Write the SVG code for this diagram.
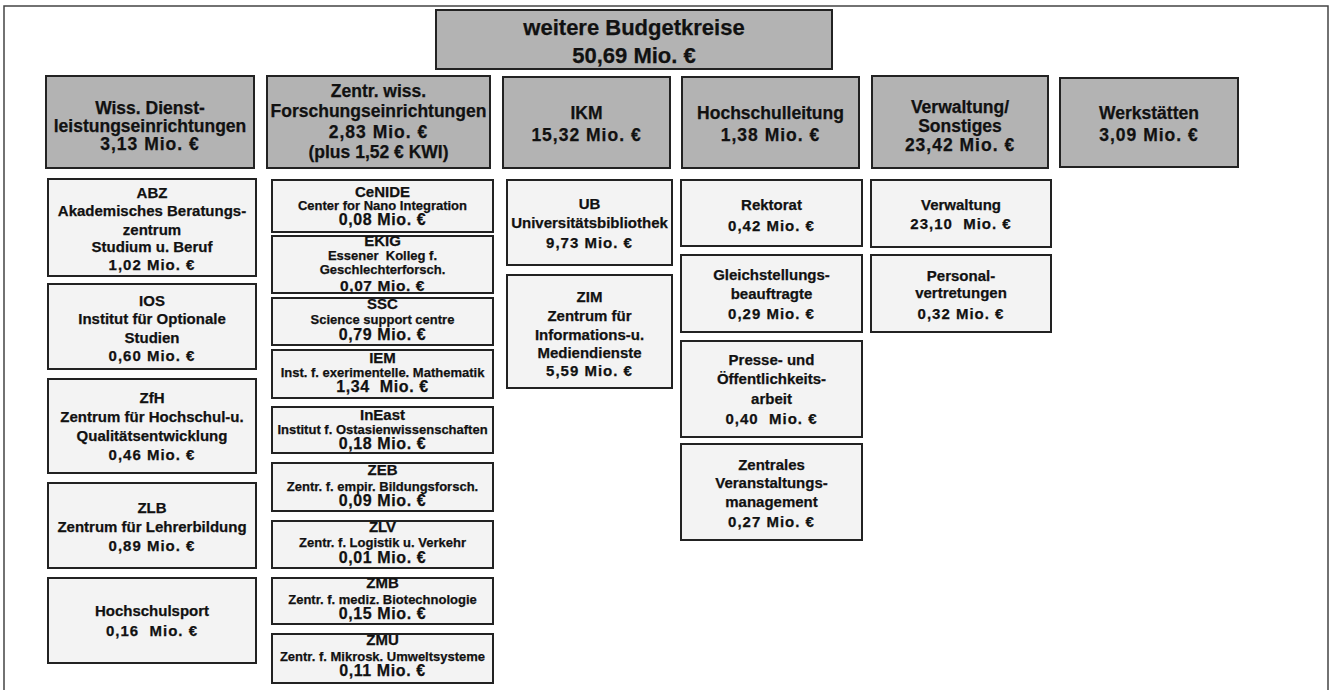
<svg xmlns="http://www.w3.org/2000/svg" width="1333" height="690" viewBox="0 0 1333 690">
<style>
text{font-family:"Liberation Sans",Arial,sans-serif;font-weight:700;fill:#111;stroke:#111;stroke-width:0.25;text-anchor:middle}
.hdr{fill:#b3b3b3;stroke:#222;stroke-width:2}
.box{fill:#f3f3f3;stroke:#222;stroke-width:2}
.frame{fill:none;stroke:#444;stroke-width:1.5}
.top{font-size:22px}
.h{font-size:17.5px}
.ha{font-size:17.5px;letter-spacing:1px}
.c{font-size:15px}
.ca{font-size:15px;letter-spacing:1px}
.s{font-size:13px}
.sa{font-size:16px;letter-spacing:0.6px}
</style>
<rect width="1333" height="690" fill="#fff"/>
<path class="frame" d="M4,700 V6 H1328 V700"/>
<g id="connectors"/>

<g id="top">
<rect class="hdr" x="436" y="10" width="396" height="59"/>
<text class="top" x="634" y="35">weitere Budgetkreise</text>
<text class="top" x="634" y="63">50,69 Mio. €</text>
</g>

<g id="h-wiss">
<rect class="hdr" x="46" y="76" width="208" height="92"/>
<text class="h" x="150" y="114">Wiss. Dienst-</text>
<text class="h" x="150" y="132">leistungseinrichtungen</text>
<text class="ha" x="150" y="150">3,13 Mio. €</text>
</g>
<g id="h-zentr">
<rect class="hdr" x="267" y="76" width="223" height="92"/>
<text class="h" x="378.5" y="97">Zentr. wiss.</text>
<text class="h" x="378.5" y="117">Forschungseinrichtungen</text>
<text class="ha" x="378.5" y="138">2,83 Mio. €</text>
<text class="h" x="378.5" y="158">(plus 1,52 € KWI)</text>
</g>
<g id="h-ikm">
<rect class="hdr" x="503" y="77" width="167" height="91"/>
<text class="h" x="586.5" y="119">IKM</text>
<text class="ha" x="586.5" y="141">15,32 Mio. €</text>
</g>
<g id="h-hsl">
<rect class="hdr" x="682" y="77" width="177" height="91"/>
<text class="h" x="770.5" y="119">Hochschulleitung</text>
<text class="ha" x="770.5" y="141">1,38 Mio. €</text>
</g>
<g id="h-verw">
<rect class="hdr" x="872" y="76" width="176" height="92"/>
<text class="h" x="960" y="113">Verwaltung/</text>
<text class="h" x="960" y="132">Sonstiges</text>
<text class="ha" x="960" y="151">23,42 Mio. €</text>
</g>
<g id="h-werk">
<rect class="hdr" x="1060" y="78" width="178" height="89"/>
<text class="h" x="1149" y="119">Werkstätten</text>
<text class="ha" x="1149" y="141">3,09 Mio. €</text>
</g>

<g id="abz">
<rect class="box" x="48" y="179" width="208" height="97"/>
<text class="c" x="152" y="198">ABZ</text>
<text class="c" x="152" y="216">Akademisches Beratungs-</text>
<text class="c" x="152" y="235">zentrum</text>
<text class="c" x="152" y="252">Studium u. Beruf</text>
<text class="ca" x="152" y="270">1,02 Mio. €</text>
</g>
<g id="ios">
<rect class="box" x="48" y="284" width="208" height="85"/>
<text class="c" x="152" y="306">IOS</text>
<text class="c" x="152" y="324">Institut für Optionale</text>
<text class="c" x="152" y="343">Studien</text>
<text class="ca" x="152" y="361">0,60 Mio. €</text>
</g>
<g id="zfh">
<rect class="box" x="48" y="379" width="208" height="94"/>
<text class="c" x="152" y="403">ZfH</text>
<text class="c" x="152" y="422">Zentrum für Hochschul-u.</text>
<text class="c" x="152" y="441">Qualitätsentwicklung</text>
<text class="ca" x="152" y="460">0,46 Mio. €</text>
</g>
<g id="zlb">
<rect class="box" x="48" y="483" width="208" height="85"/>
<text class="c" x="152" y="513">ZLB</text>
<text class="c" x="152" y="532">Zentrum für Lehrerbildung</text>
<text class="ca" x="152" y="551">0,89 Mio. €</text>
</g>
<g id="hsport">
<rect class="box" x="48" y="578" width="208" height="85"/>
<text class="c" x="152" y="616">Hochschulsport</text>
<text class="ca" x="152" y="636" xml:space="preserve">0,16  Mio. €</text>
</g>

<g id="cenide">
<rect class="box" x="272" y="180" width="221" height="52"/>
<text class="c" x="382.5" y="197">CeNIDE</text>
<text class="s" x="382.5" y="210">Center for Nano Integration</text>
<text class="sa" x="382.5" y="225">0,08 Mio. €</text>
</g>
<g id="ekig">
<rect class="box" x="272" y="236" width="221" height="57"/>
<text class="c" x="382.5" y="246">EKIG</text>
<text class="s" x="382.5" y="259.5" xml:space="preserve">Essener  Kolleg f.</text>
<text class="s" x="382.5" y="274">Geschlechterforsch.</text>
<text class="sa" x="382.5" y="291" style="font-size:15.5px">0,07 Mio. €</text>
</g>
<g id="ssc">
<rect class="box" x="272" y="298" width="221" height="47"/>
<text class="c" x="382.5" y="309">SSC</text>
<text class="s" x="382.5" y="324">Science support centre</text>
<text class="sa" x="382.5" y="340">0,79 Mio. €</text>
</g>
<g id="iem">
<rect class="box" x="272" y="350" width="221" height="48"/>
<text class="c" x="382.5" y="363">IEM</text>
<text class="s" x="382.5" y="377">Inst. f. exerimentelle. Mathematik</text>
<text class="sa" x="382.5" y="392" xml:space="preserve">1,34  Mio. €</text>
</g>
<g id="ineast">
<rect class="box" x="272" y="407" width="221" height="46"/>
<text class="c" x="382.5" y="420">InEast</text>
<text class="s" x="382.5" y="434">Institut f. Ostasienwissenschaften</text>
<text class="sa" x="382.5" y="449">0,18 Mio. €</text>
</g>
<g id="zeb">
<rect class="box" x="272" y="463" width="221" height="48"/>
<text class="c" x="382.5" y="475">ZEB</text>
<text class="s" x="382.5" y="491">Zentr. f. empir. Bildungsforsch.</text>
<text class="sa" x="382.5" y="506">0,09 Mio. €</text>
</g>
<g id="zlv">
<rect class="box" x="272" y="521" width="221" height="47"/>
<text class="c" x="382.5" y="532">ZLV</text>
<text class="s" x="382.5" y="547">Zentr. f. Logistik u. Verkehr</text>
<text class="sa" x="382.5" y="563">0,01 Mio. €</text>
</g>
<g id="zmb">
<rect class="box" x="272" y="578" width="221" height="46"/>
<text class="c" x="382.5" y="588">ZMB</text>
<text class="s" x="382.5" y="604">Zentr. f. mediz. Biotechnologie</text>
<text class="sa" x="382.5" y="619">0,15 Mio. €</text>
</g>
<g id="zmu">
<rect class="box" x="272" y="634" width="221" height="49"/>
<text class="c" x="382.5" y="645">ZMU</text>
<text class="s" x="382.5" y="661">Zentr. f. Mikrosk. Umweltsysteme</text>
<text class="sa" x="382.5" y="676">0,11 Mio. €</text>
</g>

<g id="ub">
<rect class="box" x="507" y="180" width="165" height="85"/>
<text class="c" x="589.5" y="209">UB</text>
<text class="c" x="589.5" y="228">Universitätsbibliothek</text>
<text class="ca" x="589.5" y="248">9,73 Mio. €</text>
</g>
<g id="zim">
<rect class="box" x="507" y="275" width="165" height="113"/>
<text class="c" x="589.5" y="302">ZIM</text>
<text class="c" x="589.5" y="321">Zentrum für</text>
<text class="c" x="589.5" y="340">Informations-u.</text>
<text class="c" x="589.5" y="358">Mediendienste</text>
<text class="ca" x="589.5" y="376">5,59 Mio. €</text>
</g>

<g id="rektorat">
<rect class="box" x="681" y="180" width="181" height="66"/>
<text class="c" x="771.5" y="210">Rektorat</text>
<text class="ca" x="771.5" y="231">0,42 Mio. €</text>
</g>
<g id="gleich">
<rect class="box" x="681" y="255" width="181" height="77"/>
<text class="c" x="771.5" y="280">Gleichstellungs-</text>
<text class="c" x="771.5" y="299">beauftragte</text>
<text class="ca" x="771.5" y="319">0,29 Mio. €</text>
</g>
<g id="presse">
<rect class="box" x="681" y="341" width="181" height="96"/>
<text class="c" x="771.5" y="365">Presse- und</text>
<text class="c" x="771.5" y="384">Öffentlichkeits-</text>
<text class="c" x="771.5" y="404">arbeit</text>
<text class="ca" x="771.5" y="424" xml:space="preserve">0,40  Mio. €</text>
</g>
<g id="zvm">
<rect class="box" x="681" y="444" width="181" height="96"/>
<text class="c" x="771.5" y="470">Zentrales</text>
<text class="c" x="771.5" y="488">Veranstaltungs-</text>
<text class="c" x="771.5" y="507">management</text>
<text class="ca" x="771.5" y="527">0,27 Mio. €</text>
</g>

<g id="verwaltung">
<rect class="box" x="871" y="180" width="180" height="67"/>
<text class="c" x="961" y="210">Verwaltung</text>
<text class="ca" x="961" y="229" xml:space="preserve">23,10  Mio. €</text>
</g>
<g id="personal">
<rect class="box" x="871" y="255" width="180" height="77"/>
<text class="c" x="961" y="281">Personal-</text>
<text class="c" x="961" y="298">vertretungen</text>
<text class="ca" x="961" y="319">0,32 Mio. €</text>
</g>
</svg>
